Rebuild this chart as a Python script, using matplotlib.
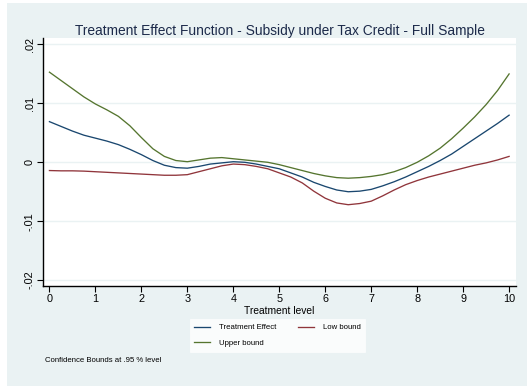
import numpy as np
import matplotlib
matplotlib.use("Agg")
import matplotlib.pyplot as plt
from matplotlib.patches import Rectangle

plt.rcParams['font.family'] = ['Liberation Sans', 'DejaVu Sans']

# treatment grid and estimated effect with 95% bounds
treat = np.arange(0, 10.01, 0.25)
effect = [0.0069, 0.0061, 0.0053, 0.0046, 0.0041, 0.0036, 0.0030, 0.0022,
          0.0013, 0.0003, -0.0005, -0.0009, -0.0010, -0.0007, -0.0003, -0.0001,
          0.0001, 0.0000, -0.0003, -0.0007, -0.0011, -0.0018, -0.0025, -0.0034,
          -0.0041, -0.0047, -0.0050, -0.0049, -0.0046, -0.0040, -0.0033, -0.0025,
          -0.0016, -0.0007, 0.0003, 0.0014, 0.0027, 0.0040, 0.0053, 0.0066,
          0.0080]
low = [-0.0014, -0.00145, -0.00145, -0.0015, -0.0016, -0.0017, -0.0018, -0.0019,
       -0.0020, -0.0021, -0.0022, -0.0022, -0.0021, -0.0016, -0.0011, -0.0006,
       -0.0003, -0.0004, -0.0007, -0.0011, -0.0018, -0.0025, -0.0035, -0.0049,
       -0.0061, -0.0069, -0.0072, -0.0070, -0.0066, -0.0057, -0.0047, -0.0038,
       -0.0031, -0.0025, -0.0020, -0.0015, -0.0010, -0.0005, -0.0001, 0.0004,
       0.0010]
upper = [0.0153, 0.0139, 0.0125, 0.0111, 0.0099, 0.0089, 0.0078, 0.0062,
         0.0042, 0.0023, 0.0010, 0.0003, 0.0001, 0.0004, 0.0007, 0.0008,
         0.0006, 0.0004, 0.0002, 0.0000, -0.0004, -0.0009, -0.0014, -0.0019,
         -0.0023, -0.0026, -0.0027, -0.0026, -0.0024, -0.0021, -0.0016, -0.0009,
         0.0000, 0.0011, 0.0024, 0.0040, 0.0058, 0.0077, 0.0098, 0.0122,
         0.0150]

yticks = [-0.02, -0.01, 0, 0.01, 0.02]
ylabels = ['-.02', '-.01', '0', '.01', '.02']
xticks = list(range(0, 11))

NAVY = '#1a476f'
MAROON = '#90353b'
GREEN = '#55752f'
BG = '#eaf2f3'

W, H = 527, 387
fig = plt.figure(figsize=(W / 100, H / 100), dpi=100)
fig.patch.set_facecolor('white')
# graph region background
fig.patches.append(Rectangle((7 / W, 1 - 386 / H), (W - 7) / W, (386 - 3) / H,
                             transform=fig.transFigure, facecolor=BG,
                             edgecolor='none', zorder=-10))

ax = fig.add_axes([43 / W, 1 - 286 / H, (516 - 43) / W, (286 - 38) / H])
ax.set_facecolor('white')

for yv in yticks:
    ax.axhline(yv, color=BG, lw=1, zorder=0)

l1, = ax.plot(treat, effect, color=NAVY, lw=0.95, label='Treatment Effect')
l2, = ax.plot(treat, low, color=MAROON, lw=0.95, label='Low bound')
l3, = ax.plot(treat, upper, color=GREEN, lw=0.95, label='Upper bound')

ax.set_xlim(-0.14, 10.15)
ax.set_ylim(-0.021, 0.0211)
ax.set_xticks(xticks)
ax.set_yticks(yticks)
ax.set_yticklabels(ylabels, rotation=90, va='center')
ax.tick_params(axis='both', direction='out', length=4, width=0.8,
               labelsize=7.8, colors='black', pad=2)
for s in ['top', 'right']:
    ax.spines[s].set_visible(False)
for s in ['left', 'bottom']:
    ax.spines[s].set_linewidth(1.0)
    ax.spines[s].set_color('black')

ax.set_xlabel('Treatment level', fontsize=7.4, labelpad=1)
fig.text(279.5 / W, 1 - 31 / H,
         'Treatment Effect Function - Subsidy under Tax Credit - Full Sample',
         ha='center', va='center', fontsize=9.9, color='#1c2a4a')

leg = fig.legend([l1, l3, l2], ['Treatment Effect', 'Upper bound', 'Low bound'],
                 ncol=2, loc='center', bbox_to_anchor=(277.5 / W, 1 - 335.5 / H),
                 fontsize=5.6, frameon=True, fancybox=False, handlelength=2.05,
                 handletextpad=1.15, columnspacing=2.7, borderpad=0.6,
                 labelspacing=1.05)
leg.get_frame().set_facecolor('white')
leg.get_frame().set_edgecolor('white')
leg.get_frame().set_linewidth(0.5)

fig.text(45 / W, 1 - 361 / H, 'Confidence Bounds at .95 % level',
         ha='left', va='center', fontsize=5.6, color='black')

fig.savefig('out.png', dpi=100)
